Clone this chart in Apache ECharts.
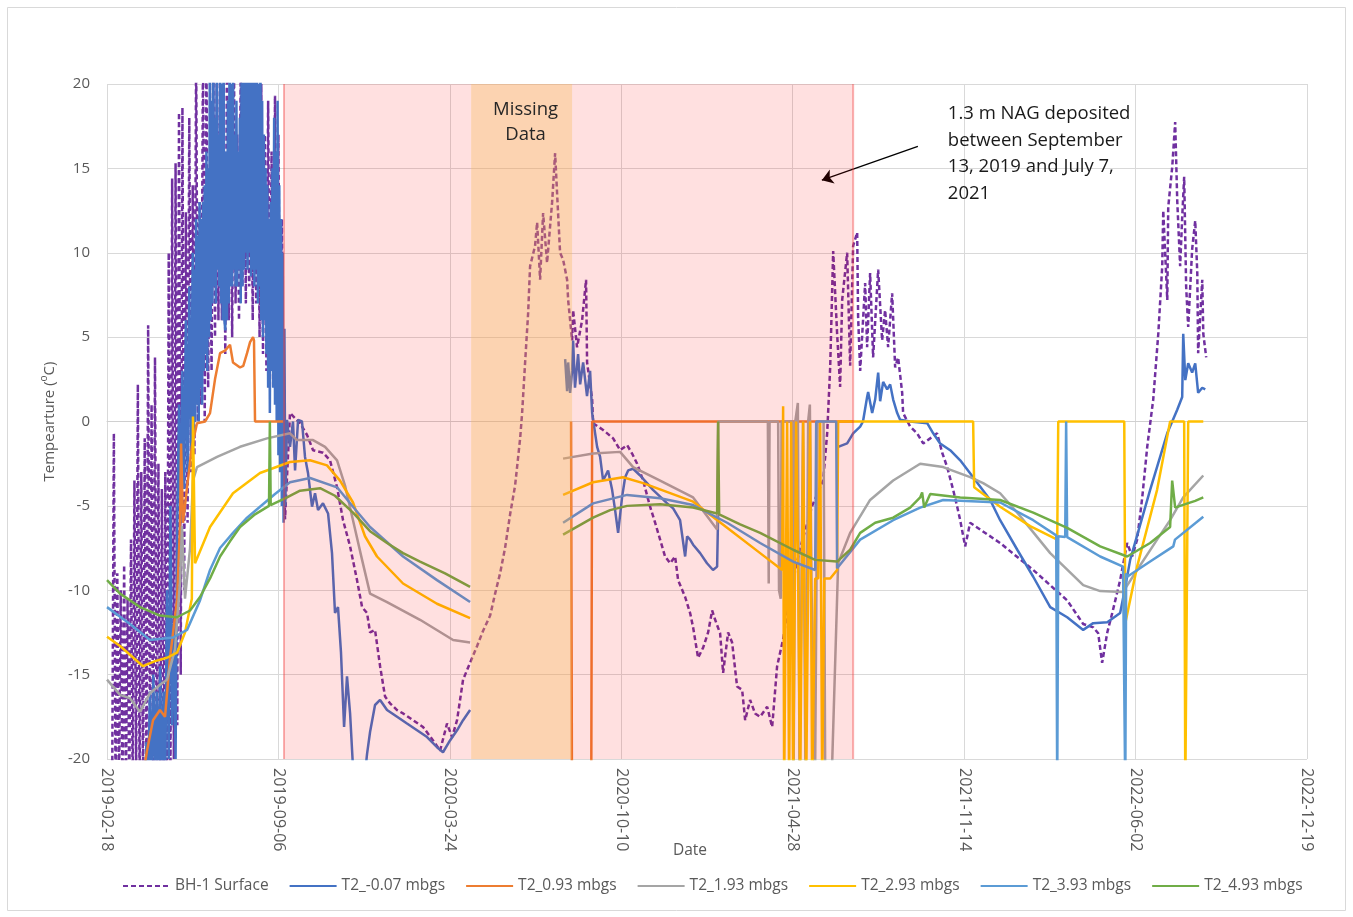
<!DOCTYPE html>
<html>
<head>
<meta charset="utf-8">
<title>BH-1 / T2 ground temperatures</title>
<script src="https://cdn.jsdelivr.net/npm/echarts@6/dist/echarts.min.js"></script>
<style>
  html, body { margin: 0; padding: 0; background: #ffffff; }
  #chart { width: 1353px; height: 917px; }
</style>
</head>
<body>
<div id="chart"></div>
<script>
// x values are days since 2019-02-18; y values are temperatures in degrees C
const START_MS = Date.UTC(2019, 1, 18);
const DAY_MS = 86400000;

const seriesNames = ['BH-1 Surface', 'T2_-0.07 mbgs', 'T2_0.93 mbgs', 'T2_1.93 mbgs', 'T2_2.93 mbgs', 'T2_3.93 mbgs', 'T2_4.93 mbgs'];
const seriesColors = ['#7030A0', '#4472C4', '#ED7D31', '#A5A5A5', '#FFC000', '#5B9BD5', '#70AD47'];

// BH-1 surface, daily swings in the first season (one reading every 2 days from day 6)
const bhSurfaceEarlyStart = 6;
const bhSurfaceEarly = [-22, -0.7, -22, -9, -22, -10, -22, -8.5, -22, -10.5, -22, -7, -22, -3.5, -21, 2.2, -22, -3, -22, -1,
  -22, 5.7, -20, 1, -22, 3.8, -21, -2.5, -22, -4, -22, -3, -22, 10, -22, 14.4, -20, 15.3, -18, 18.3,
  -15, 18.6, -10, 12.4, -6, 18, -3, 14, -2, 22, 0, 13, 1, 22, 0, 22, 2, 14.1, 3, 22,
  5, 20, 6, 22, 6, 18, 4, 22, 6, 19, 5, 22, 7, 17, 6, 21, 8, 18, 7, 22,
  8, 19, 6, 22, 7, 18, 5, 20, 4, 17, 3, 19, 2, 16, 4, 19.3, 3, 17, 1, 12, -1];
const bhSurfaceLater = [[207.7, -5.8], [213.5, 0.5], [225.2, -0.1], [233.4, -0.8], [240.4, -1.7], [252, -1.85], [260.2, -2.3], [268.4, -3.9],
  [275.4, -5.85], [283.6, -7.4], [291.7, -9.4], [297.6, -11.0], [303.4, -11.35], [306.9, -12.5], [312.7, -12.35], [318.6, -14.5],
  [324.4, -16.3], [330.2, -16.7], [338.4, -17.1], [345.4, -17.3], [357, -17.7], [368.7, -18.1], [380.4, -18.9], [388.6, -19.5],
  [396.7, -17.9], [402.6, -18.7], [408.4, -17.7], [415.4, -15.3], [423.6, -14.3], [431.8, -13.3], [438.8, -12.4], [447, -11.5],
  [452.8, -10.2], [458.6, -9.0], [464.4, -7.5], [470.3, -5.5], [476.1, -3.8], [482, -1.0], [484.3, 0.5], [487.8, 3.5],
  [491.3, 6.4], [493.6, 9.2], [499.4, 10.4], [501.8, 11.8], [505.3, 8.4], [508.8, 12.35], [513.4, 9.4], [519.3, 13.0],
  [522.8, 15.9], [526.3, 12.3], [528.6, 10.0], [532.1, 9.6], [536.8, 8.4], [538, 7.2], [542.6, 4.8], [543.8, 6.6],
  [548.4, 4.4], [554.3, 6.0], [558.9, 8.4], [560.1, 3.5], [566, 1.3], [567.1, -0.1], [578.8, -0.5], [590.5, -1.0],
  [598.6, -1.7], [606.8, -1.4], [612.6, -1.9], [618.5, -2.5], [625.5, -3.5], [633.6, -5.05], [639.5, -6.0], [645.3, -7.0],
  [651.1, -8.0], [657, -8.4], [662.8, -8.0], [666.3, -9.4], [674.5, -10.4], [680.3, -11.35], [683.8, -12.2], [689.6, -14.0],
  [695.5, -13.4], [701.3, -12.5], [706, -11.2], [709.5, -11.75], [715.3, -12.55], [718.8, -14.9], [724.6, -12.5], [729.3, -13.1],
  [735.1, -15.7], [741, -15.9], [744.5, -17.7], [750.3, -16.5], [756.1, -17.3], [762, -17.5], [770.2, -16.9], [776, -18.1],
  [781.8, -14.5], [788.8, -12.9], [797, -10.2], [808.7, -7.5], [822.7, -5.0], [835.5, -3.5], [840.2, -0.7], [843.7, 3.2],
  [847.2, 10.1], [851.8, 5.2], [855.3, 2.05], [857.7, 7.2], [863.5, 10.0], [867, 3.3], [870.5, 10.4], [875.2, 11.2],
  [876.3, 6.2], [878.7, 3.0], [884.5, 8.2], [886.8, 4.4], [890.3, 8.8], [893.8, 3.8], [899.7, 9.0], [904.3, 4.8],
  [907.8, 6.6], [911.3, 4.4], [916, 7.6], [919.5, 3.2], [923, 3.8], [927.7, 1.7], [928.8, 0.5], [937, -0.3],
  [945.2, -0.7], [952.2, -1.3], [960.4, -1.0], [968.5, -0.7], [974.4, -1.85], [980.2, -2.7], [987.2, -4.05], [991.9, -5.05],
  [995.4, -5.85], [1001.2, -7.4], [1007, -6.0], [1042, -7.2], [1080.6, -8.8], [1120.2, -10.6], [1138.9, -12.0], [1150.6, -12.2],
  [1156.4, -12.55], [1161, -14.3], [1167, -12.5], [1172.8, -11.35], [1182, -9.4], [1190.2, -7.2], [1196, -8.0], [1201.8, -7.0],
  [1207.8, -4.5], [1213.6, -1.5], [1220.6, 1.3], [1226.5, 5.2], [1231.1, 9.2], [1232.3, 12.5], [1237, 7.2], [1238.1, 12.7],
  [1242.8, 15.1], [1246.2, 17.75], [1248.6, 13.1], [1252, 9.2], [1254.4, 12.1], [1256.7, 14.5], [1259, 8.0], [1261.4, 5.6],
  [1266, 10.2], [1269.6, 11.9], [1272, 8.8], [1273, 4.05], [1277.8, 8.4], [1279, 5.2], [1282.4, 3.8]];

// T2 at -0.07 m: spring readings every 2 days from day 44, then daily summer readings from day 99
const t2m007EarlyStart = 44;
const t2m007Early = [-22, -19, -22, -16, -22, -15, -21, -16, -22, -14.5, -22, -16, -21, -10, -20, -5, -18, -12, -20, -6,
  1, -6, 3, -4, 6, -3, 8, -2];
const t2m007SummerStart = 99;
const t2m007Summer = [-2, 10, -1, 9, 0, 12, 1, 11, 0, 13, 2, 12, 1, 13, 3, 14, 4, 16, 3, 15,
  5, 22, 6, 19, 7, 23, 8, 18, 7, 21, 9, 17, 8, 23, 7, 20, 6, 23, 6, 5.4,
  16, 6, 19, 7, 23, 8, 20, 8, 22, 9, 17, 8, 19, 8, 16, 9, 18, 7, 21, 8,
  23, 9, 22, 10, 24, 9, 21, 10, 23, 8.6, 22, 9, 24, 8, 21, 9, 23, 7, 20, 8,
  22, 6, 19, 5, 17, 6, 15, 4, 14, 2, 12, 0.5, 13, 3, 15, 2, 18, 1, 16, 0,
  19, -2, 14, -3, 12, -5, 10, -6, 5.5, -5];
const t2m007Later = [[210, 0.1], [213.5, -1.5], [217, 0], [219.4, -2.9], [222.9, 0.1], [227.5, 0], [231, -2.1], [234.5, -3.05],
  [239.2, -5.05], [242.7, -4.25], [246.2, -5.25], [252, -4.85], [257.9, -5.45], [262.5, -7.8], [266, -11.35], [269.5, -11.0],
  [273, -13.7], [276.6, -18.1], [280, -15.1], [283.6, -17.3], [287, -20.5], [291.7, -23], [298.7, -22], [303.4, -19.7],
  [306.9, -18.4], [312.7, -16.8], [318.6, -16.5], [326.7, -17.1], [338.4, -17.5], [350, -17.9], [361.7, -18.3], [373.4, -18.7],
  [385, -19.3], [392, -19.6], [400.2, -18.9], [408.4, -18.3], [415.4, -17.7], [423.6, -17.1], [424.5, null],
  [534.5, 3.7], [536.8, 1.8], [538, 3.5], [540.3, 1.7], [542.6, 3.0], [543.8, 4.8], [546, 2.0], [549.6, 4.0],
  [552, 2.2], [555.5, 3.5], [560, 1.5], [563.6, 3.0], [566, 0.5], [571.8, -1.5], [575.3, -2.1], [578.8, -3.5],
  [584.6, -2.9], [589.3, -4.05], [592.8, -5.25], [596.3, -6.6], [601, -4.45], [604.5, -3.3], [608, -2.9], [613.8, -2.8],
  [622, -3.2], [630, -3.65], [637, -4.05], [645.3, -4.45], [653.5, -4.85], [660.5, -5.15], [668.6, -5.85], [674.5, -8.0],
  [676.8, -6.8], [680.3, -7.0], [683.8, -7.3], [692, -7.8], [700, -8.4], [707, -8.8], [711.8, -8.6], [713, -5.45], [714, null],
  [853, -1.5], [863.5, -1.3], [870.5, -0.7], [878.7, -0.3], [882, 0], [886.8, 1.45], [888, 1.75], [892.7, 0.5],
  [896.2, 1.3], [899.7, 2.9], [902, 1.2], [905.5, 2.35], [910.2, 1.9], [913.7, 2.2], [917.2, 1.3], [921.9, 0.5],
  [925.3, 0.1], [937, 0], [956.9, -0.1], [963.9, -0.7], [972, -1.3], [983.7, -1.7], [995.4, -2.3], [1010.5, -3.3],
  [1030.4, -4.65], [1042, -5.85], [1062, -7.6], [1080.6, -9.2], [1100.4, -11.0], [1120.2, -11.6], [1138.9, -12.35], [1150.6, -11.95],
  [1167, -11.9], [1182, -11.35], [1188, -9.8], [1193.7, -8.2], [1217, -4.05], [1236.9, -0.7], [1248.6, 0.7], [1254.4, 1.45],
  [1255.6, 5.2], [1258, 2.45], [1261.4, 3.45], [1266, 2.9], [1269.6, 3.45], [1273, 1.7], [1277.8, 2.0], [1281.3, 1.9]];

const t2m093 = [[0, -25], [42, -21], [46.7, -19.5], [53.7, -17.7], [61.8, -17.1], [67.7, -17.5], [73.5, -14.0], [81.7, -10.6],
  [85.2, -6.2], [86.4, -1.3], [88.7, -6.0], [93.4, -3.9], [99, -1.5], [105, -0.1], [114.4, 0], [120.2, 0.5],
  [126, 2.5], [131.9, 4.05], [137.7, 4.2], [143.5, 4.55], [147, 3.5], [155.2, 3.2], [159, 3.3], [163.4, 4.05],
  [166.9, 4.7], [170.4, 5.0], [171.5, 4.8], [172.7, 0], [205.4, 0], [206, null],
  [541.4, 0], [542.6, -25], [564.8, -25], [566, 0], [871, 0]];

const t2m193 = [[0, -15.3], [15.2, -16.2], [26.8, -16.4], [38.5, -17.2], [50.2, -16.1], [61.8, -15.6], [70, -15.3], [79.3, -13.5],
  [85.2, -9.5], [87.5, -6.2], [91, -10.5], [96.9, -7.5], [100.3, -3.5], [105, -2.7], [128.4, -2.1], [155.2, -1.5],
  [186.7, -1.0], [213.5, -0.7], [221.6, -1.1], [240.4, -1.1], [254.4, -1.5], [268.4, -2.3], [277.7, -3.8], [287, -5.85],
  [297.6, -8.2], [306.9, -10.2], [326.7, -10.7], [365.2, -11.75], [403.8, -12.95], [423.6, -13.1], [424.5, null],
  [532.1, -2.2], [567.1, -1.9], [598.6, -1.8], [613.8, -2.7], [645.3, -3.5], [683.8, -4.5], [711.8, -6.4], [713, 0],
  [771, 0], [772, -9.6], [773, 0], [783, 0], [784, -10], [786, -10.5], [787, 0], [800, 0],
  [801, -22], [803, 0], [806, 1.1], [808, -22], [812, 0], [815, -22], [818, 0], [820, 1.0],
  [822, -10], [826, -22], [829, 0], [836, 0], [838, -22], [845, -22], [853, -8.4], [867, -6.6],
  [890.3, -4.65], [917.2, -3.5], [948.7, -2.5], [975.5, -2.7], [1007, -3.3], [1022.2, -3.65], [1042, -4.25], [1062, -5.4],
  [1100.4, -7.8], [1138.9, -9.7], [1158.7, -10.05], [1185.4, -10.1], [1201.8, -8.8], [1225.1, -7.0], [1240.3, -5.85], [1255.6, -4.5],
  [1279, -3.2]];

const t2m293 = [[0, -12.75], [15.2, -13.3], [42, -14.5], [56, -14.2], [70, -14.0], [81.7, -13.7], [91, -12.5], [99, -10.5],
  [100.3, 0.3], [102.7, -8.4], [120.2, -6.25], [147, -4.25], [178.5, -3.05], [213.5, -2.4], [236.9, -2.3], [256.7, -2.6],
  [271.9, -3.5], [287, -4.8], [301, -6.8], [315, -8.0], [345.4, -9.6], [385, -10.8], [423.6, -11.65], [424.5, null],
  [532.1, -4.35], [567.1, -3.6], [602, -3.3], [625.5, -3.65], [683.8, -4.75], [723.5, -6.3], [762, -7.8], [787.7, -8.8],
  [788.8, 0.9], [790, -22], [793.5, 0], [795.8, -22], [798.2, 0], [800.5, -22], [804, 0], [806.3, -9],
  [808.7, -22], [812.2, 0], [815.7, -22], [818, -9.3], [820.3, 0], [822.7, -22], [826.2, -9.3], [829.7, -9.3],
  [832, 0], [834.4, -22], [836.8, -9.3], [843.7, -9.3], [851.8, -8.8], [853, 0], [1010.5, 0], [1011.7, -3.9],
  [1042, -5.05], [1077, -6.2], [1108.6, -7.0], [1109.8, 0], [1186.8, 0], [1188, -11.95], [1201.8, -8.6], [1225.1, -4.05],
  [1240.3, 0], [1256.7, 0], [1258, -22], [1260.3, -22], [1261.4, 0], [1279, 0]];

const t2m393 = [[0, -11.0], [26.8, -12.0], [50.2, -12.95], [77, -12.8], [93.4, -12.35], [108.5, -10.6], [120.2, -8.8], [131.9, -7.5],
  [147, -6.6], [163.4, -5.7], [178.5, -5.05], [196, -4.3], [213.5, -3.6], [236.9, -3.35], [268.4, -3.9], [289.4, -5.2],
  [306.9, -6.25], [345.4, -8.0], [385, -9.4], [423.6, -10.7], [424.5, null],
  [532.1, -6.0], [567.1, -4.85], [606.8, -4.35], [645.3, -4.55], [683.8, -4.95], [723.5, -6.0], [762, -7.2], [800.5, -8.3],
  [826.2, -8.8], [827.4, 0], [850.7, 0], [851.8, -8.7], [878.7, -7.0], [917.2, -5.85], [948.7, -5.1], [975.5, -4.65],
  [1042, -4.8], [1080.6, -5.85], [1107.4, -6.75], [1108.6, -22], [1109.8, -6.8], [1117.9, -6.85], [1119, 0], [1120.2, -6.85],
  [1158.7, -8.0], [1185.4, -8.6], [1188, -22], [1189, -9.0], [1190.2, -9.2], [1217, -8.3], [1244, -7.4], [1246, -7.0],
  [1279, -5.65]];

const t2m493 = [[0, -9.4], [15.2, -10.2], [38.5, -11.0], [61.8, -11.5], [81.7, -11.6], [96.9, -11.2], [108.5, -10.4], [120.2, -9.3],
  [131.9, -8.0], [143.5, -7.1], [155.2, -6.25], [172.7, -5.5], [189, -5.0], [190, 0], [191, -4.95], [210, -4.5],
  [225.2, -4.1], [248.6, -3.95], [266, -4.4], [287, -5.4], [306.9, -6.5], [326.7, -7.2], [345.4, -7.8], [365.2, -8.3],
  [394.4, -9.0], [423.6, -9.8], [424.5, null],
  [532.1, -6.7], [549.6, -6.2], [567.1, -5.7], [587, -5.25], [606.8, -5.0], [645.3, -4.9], [683.8, -5.1], [711.8, -5.45],
  [713, 0], [714.2, -5.5], [738.7, -6.1], [762, -6.6], [800.5, -7.6], [826.2, -8.2], [851.8, -8.3], [867, -7.6],
  [878.7, -6.6], [896.2, -6.0], [917.2, -5.7], [937, -5.1], [948.7, -4.5], [951, -4.2], [953.4, -5.1], [960.4, -4.3],
  [995.4, -4.5], [1042, -4.65], [1080.6, -5.4], [1120.2, -6.3], [1158.7, -7.4], [1190.2, -8.0], [1217, -7.2], [1240.3, -6.25],
  [1242.7, -3.5], [1246.2, -5.1], [1258, -4.9], [1269.6, -4.7], [1279, -4.5]];

// shaded periods: NAG placement (pink) and the logger gap (orange)
const shadeStart = [206.5, 424.8, 542.6];
const shadeEnd = [424.8, 542.6, 870.5];
const shadeKind = ['nag', 'missing', 'nag'];
const shadeText = ['', 'Missing\nData', ''];
const nagEdges = [206.5, 870.5];

// annotation arrow and note
const arrowTail = [946, 16.3];
const arrowHead = [834, 14.3];
const noteAnchor = [981, 19.0];
const noteText = '1.3 m NAG deposited\nbetween September\n13, 2019 and July 7,\n2021';

function stepped(start, step, values) {
  return values.map(function (v, i) { return [start + i * step, v]; });
}
function dayLabel(d) {
  return new Date(START_MS + d * DAY_MS).toISOString().slice(0, 10);
}

const FONT = "'Open Sans', sans-serif";
const TEXT_GREY = '#595959';

const seriesData = [
  stepped(bhSurfaceEarlyStart, 2, bhSurfaceEarly).concat(bhSurfaceLater),
  stepped(t2m007EarlyStart, 2, t2m007Early).concat(stepped(t2m007SummerStart, 1, t2m007Summer), t2m007Later),
  t2m093, t2m193, t2m293, t2m393, t2m493
];

const lineSeries = seriesNames.map(function (name, i) {
  const s = {
    type: 'line',
    name: name,
    data: seriesData[i],
    showSymbol: false,
    symbol: 'none',
    connectNulls: false,
    clip: true,
    animation: false,
    emphasis: { disabled: true },
    itemStyle: { color: seriesColors[i] },
    lineStyle: { color: seriesColors[i], width: 2.5, type: i === 0 ? [5, 3] : 'solid' }
  };
  if (i === seriesNames.length - 1) {
    s.markLine = {
      silent: true,
      animation: false,
      symbol: ['none', 'arrow'],
      symbolSize: 11,
      label: { show: false },
      lineStyle: { color: '#000000', width: 1.3, type: 'solid' },
      emphasis: { disabled: true },
      data: [[{ coord: arrowTail }, { coord: arrowHead }]]
    };
  }
  return s;
});

const shadeFill = { nag: 'rgba(255, 0, 0, 0.12)', missing: 'rgba(247, 150, 70, 0.42)' };

const shadeSeries = {
  type: 'custom',
  name: 'periods',
  silent: true,
  z: 10,
  animation: false,
  data: shadeStart.map(function (s, i) { return [s, shadeEnd[i]]; }),
  encode: { x: [0, 1] },
  renderItem: function (params, api) {
    const i = params.dataIndex;
    const p0 = api.coord([api.value(0), 20]);
    const p1 = api.coord([api.value(1), -20]);
    const kids = [{
      type: 'rect',
      shape: { x: p0[0], y: p0[1], width: p1[0] - p0[0], height: p1[1] - p0[1] },
      style: { fill: shadeFill[shadeKind[i]] }
    }];
    if (shadeText[i]) {
      kids.push({
        type: 'text',
        style: {
          text: shadeText[i], x: (p0[0] + p1[0]) / 2 + 4, y: p0[1] + 13,
          align: 'center', verticalAlign: 'top',
          font: '18.5px ' + FONT, fill: '#262626', lineHeight: 25
        }
      });
    }
    return { type: 'group', children: kids };
  }
};

const edgeSeries = {
  type: 'custom',
  name: 'edges',
  silent: true,
  z: 11,
  animation: false,
  data: nagEdges.map(function (d) { return [d]; }),
  encode: { x: 0 },
  renderItem: function (params, api) {
    const top = api.coord([api.value(0), 20]);
    const bottom = api.coord([api.value(0), -20]);
    return {
      type: 'line',
      shape: { x1: top[0], y1: top[1], x2: bottom[0], y2: bottom[1] },
      style: { stroke: 'rgba(240, 60, 60, 0.4)', lineWidth: 2 }
    };
  }
};

const chart = echarts.init(document.getElementById('chart'), null, { renderer: 'canvas' });

const option = {
  backgroundColor: '#ffffff',
  animation: false,
  textStyle: { fontFamily: FONT },
  grid: { left: 107, right: 46, top: 84, bottom: 158, containLabel: false, outerBoundsMode: 'none' },
  legend: {
    data: seriesNames,
    left: 117,
    top: 873,
    itemWidth: 47,
    itemHeight: 14,
    itemGap: 20,
    itemStyle: { opacity: 0 },
    textStyle: { fontSize: 15.5, color: TEXT_GREY, fontFamily: FONT }
  },
  xAxis: {
    type: 'value',
    min: 0,
    max: 1400,
    interval: 200,
    name: 'Date',
    nameLocation: 'middle',
    nameGap: 84,
    nameMoveOverlap: false,
    nameTextStyle: { fontSize: 15.5, color: TEXT_GREY, fontFamily: FONT, padding: [0, 34, 0, 0] },
    axisLine: { show: true, lineStyle: { color: '#d0d0d0', width: 1 } },
    axisTick: { show: false },
    axisLabel: {
      rotate: -90,
      margin: 9,
      fontSize: 16,
      color: TEXT_GREY,
      fontFamily: FONT,
      showMinLabel: true,
      showMaxLabel: true,
      formatter: function (v) { return dayLabel(v); }
    },
    splitLine: { show: true, lineStyle: { color: '#d9d9d9', width: 1 } }
  },
  yAxis: {
    type: 'value',
    min: -20,
    max: 20,
    interval: 5,
    name: '{t|Tempearture (}{s|o}{t|C)}',
    nameLocation: 'middle',
    nameGap: 46,
    nameRotate: 90,
    nameTextStyle: {
      color: TEXT_GREY,
      rich: {
        t: { fontSize: 15, color: TEXT_GREY, fontFamily: FONT, lineHeight: 20 },
        s: { fontSize: 10, color: TEXT_GREY, fontFamily: FONT, verticalAlign: 'top', lineHeight: 20 }
      }
    },
    axisLine: { show: false },
    axisTick: { show: false },
    axisLabel: { fontSize: 15, color: TEXT_GREY, fontFamily: FONT, margin: 17 },
    splitLine: { show: true, lineStyle: { color: '#d9d9d9', width: 1 } }
  },
  series: lineSeries.concat([shadeSeries, edgeSeries])
};

chart.setOption(option);

const notePos = chart.convertToPixel({ gridIndex: 0 }, noteAnchor);
chart.setOption({
  graphic: [
    {
      type: 'rect',
      silent: true,
      z: 0,
      shape: { x: 7.5, y: 7.5, width: 1338, height: 903 },
      style: { fill: 'none', stroke: '#d9d9d9', lineWidth: 1 }
    },
    {
      type: 'text',
      silent: true,
      z: 20,
      x: notePos[0],
      y: notePos[1],
      style: {
        text: noteText,
        font: '18.5px ' + FONT,
        fill: '#1a1a1a',
        lineHeight: 26.5,
        align: 'left',
        verticalAlign: 'top'
      }
    }
  ]
});
</script>
</body>
</html>
